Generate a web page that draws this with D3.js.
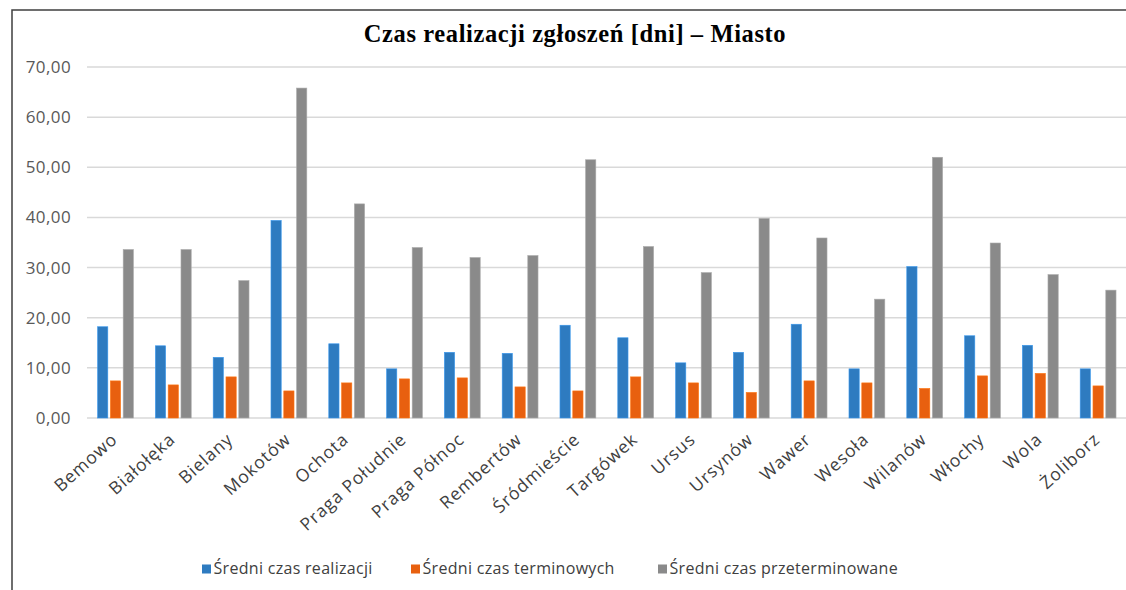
<!DOCTYPE html>
<html>
<head>
<meta charset="utf-8">
<script src="https://cdn.jsdelivr.net/npm/d3@7"></script>
<style>
  body { margin: 0; background: #fff; }
  svg { display: block; }
</style>
</head>
<body>
<svg id="chart" width="1126" height="590"></svg>
<script>
const districts = ["Bemowo", "Białołęka", "Bielany", "Mokotów", "Ochota", "Praga Południe",
    "Praga Północ", "Rembertów", "Śródmieście", "Targówek", "Ursus", "Ursynów", "Wawer",
    "Wesoła", "Wilanów", "Włochy", "Wola", "Żoliborz"];
const seriesNames = ["Średni czas realizacji", "Średni czas terminowych", "Średni czas przeterminowane"];
const sredniRealizacji = [18.2, 14.4, 12.1, 39.4, 14.8, 9.8, 13.1, 12.9, 18.5, 16.0, 11.0, 13.1, 18.7, 9.8, 30.2, 16.4, 14.5, 9.8];
const sredniTerminowych = [7.4, 6.6, 8.2, 5.4, 7.0, 7.8, 8.0, 6.2, 5.4, 8.2, 7.0, 5.1, 7.4, 7.0, 5.9, 8.4, 8.9, 6.4];
const sredniPrzeterminowane = [33.6, 33.6, 27.4, 65.8, 42.7, 34.0, 32.0, 32.4, 51.5, 34.2, 29.0, 39.8, 35.9, 23.7, 52.0, 34.9, 28.6, 25.5];
const yTicks = [0, 10, 20, 30, 40, 50, 60, 70];
const colors = ["#2e7bc0", "#e8600f", "#8a8a8a"];

const allSeries = [sredniRealizacji, sredniTerminowych, sredniPrzeterminowane];
const svg = d3.select("#chart");
const font = "'Open Sans', 'Noto Sans', sans-serif";

// chart frame (cut off at right and bottom like the source)
svg.append("rect")
    .attr("x", 12).attr("y", 10)
    .attr("width", 1200).attr("height", 700)
    .attr("fill", "none")
    .attr("stroke", "#3f3f3f")
    .attr("stroke-width", 1.5);

svg.append("text")
    .attr("x", 575)
    .attr("y", 42)
    .attr("text-anchor", "middle")
    .attr("font-family", "'Liberation Serif', 'DejaVu Serif', serif")
    .attr("font-weight", "bold")
    .attr("font-size", "24.5px")
    .attr("letter-spacing", "0.6px")
    .attr("fill", "#000")
    .text("Czas realizacji zgłoszeń [dni] – Miasto");

let x = d3.scaleBand().domain(districts).range([86.6, 1127]).paddingInner(0.38).paddingOuter(0.19);
let xs = d3.scaleBand().domain([0, 1, 2]).range([0, x.bandwidth()]).paddingInner(0.2);
let y = d3.scaleLinear().domain([0, 70]).range([418, 67]);

// gridlines
svg.append("g")
    .selectAll("line")
    .data(yTicks)
    .join("line")
    .attr("x1", 87).attr("x2", 1126)
    .attr("y1", d => y(d)).attr("y2", d => y(d))
    .attr("stroke", "#d9d9d9")
    .attr("stroke-width", 1.5);

// y labels
svg.append("g")
    .selectAll("text")
    .data(yTicks)
    .join("text")
    .attr("x", 71)
    .attr("y", d => y(d) + 6)
    .attr("text-anchor", "end")
    .attr("font-family", font)
    .attr("font-size", "17px")
    .attr("letter-spacing", "0.4px")
    .attr("fill", "#595959")
    .text(d => d3.format(".2f")(d).replace(".", ","));

// bars
allSeries.forEach((vals, s) => {
    svg.append("g")
        .selectAll("rect")
        .data(vals)
        .join("rect")
        .attr("x", (d, i) => x(districts[i]) + xs(s))
        .attr("y", d => y(d))
        .attr("width", xs.bandwidth())
        .attr("height", d => y(0) - y(d))
        .attr("fill", colors[s])
        .attr("stroke", d3.color(colors[s]).brighter(0.6))
        .attr("stroke-width", 0.6);
});

// x labels
svg.append("g")
    .selectAll("text")
    .data(districts)
    .join("text")
    .attr("transform", d => `translate(${x(d) + x.bandwidth() / 2 + 3},${441}) rotate(-42)`)
    .attr("text-anchor", "end")
    .attr("font-family", font)
    .attr("font-size", "17.5px")
    .attr("letter-spacing", "0.9px")
    .attr("fill", "#404040")
    .text(d => d);

// legend
const legendX = [202, 411, 658];
seriesNames.forEach((name, s) => {
    svg.append("rect")
        .attr("x", legendX[s]).attr("y", 564.5)
        .attr("width", 9).attr("height", 9)
        .attr("fill", colors[s]);
    svg.append("text")
        .attr("x", legendX[s] + 11.5)
        .attr("y", 573.5)
        .attr("font-family", font)
        .attr("font-size", "16px")
        .attr("letter-spacing", "0.3px")
        .attr("fill", "#404040")
        .text(name);
});
</script>
</body>
</html>
